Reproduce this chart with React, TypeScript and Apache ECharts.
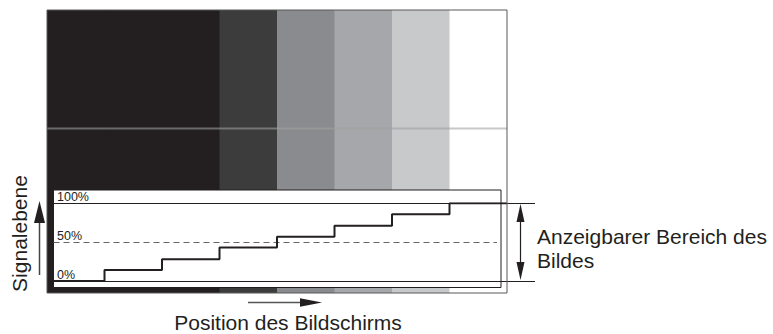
import React, { useEffect, useRef } from 'react';
import * as echarts from 'echarts';

// ---- data ----
const columnTones = ['#231f20', '#231f20', '#231f20', '#3c3c3c', '#8a8b8e', '#a6a7aa', '#c8c9cb', '#ffffff'];
const signalLevels = [0, 14, 28, 43, 57, 71, 86, 100];
const levelTicks = [0, 50, 100];
const levelTickLabels = ['0%', '50%', '100%'];
const yAxisTitle = 'Signalebene';
const xAxisTitle = 'Position des Bildschirms';
const rangeLabel = ['Anzeigbarer Bereich des', 'Bildes'];

// ---- layout ----
const FONT = '"Liberation Sans", Arial, Helvetica, sans-serif';
const INK = '#231f20';
const FRAME = { x: 47, y: 10, w: 460, h: 283 };
const COL_W = FRAME.w / columnTones.length;
const BOX = { x: 53.5, y: 190, w: 447.5, h: 97.5 };
const SIG = { left: 53.5, right: 535, top: 203.3, bottom: 281 };
const xMin = (SIG.left - FRAME.x) / COL_W;
const xMax = (SIG.right - FRAME.x) / COL_W;
const dashEnd = (497 - FRAME.x) / COL_W;

export default function App() {
  const ref = useRef<HTMLDivElement>(null);
  useEffect(() => {
    if (!ref.current) return;
    const chart = echarts.init(ref.current, undefined, { renderer: 'svg' });
    const stairs: number[][] = signalLevels.map((v, i) => [i, v]);
    stairs.push([signalLevels.length, signalLevels[signalLevels.length - 1]]);

    const option: any = {
      animation: false,
      grid: [
        { left: FRAME.x, top: FRAME.y, width: FRAME.w, height: FRAME.h },
        { left: SIG.left, top: SIG.top, width: SIG.right - SIG.left, height: SIG.bottom - SIG.top },
      ],
      xAxis: [
        { gridIndex: 0, type: 'value', min: 0, max: columnTones.length, show: false },
        { gridIndex: 1, type: 'value', min: xMin, max: xMax, show: false },
      ],
      yAxis: [
        { gridIndex: 0, type: 'value', min: 0, max: 1, show: false },
        {
          gridIndex: 1, type: 'value', min: 0, max: 100, interval: 50, z: 6,
          axisLine: { show: false }, axisTick: { show: false }, splitLine: { show: false },
          axisLabel: {
            inside: true, margin: 3.5, verticalAlign: 'bottom', fontSize: 12.5, color: INK, fontFamily: FONT,
            formatter: (v: number) => levelTickLabels[levelTicks.indexOf(v)] ?? '',
          },
        },
      ],
      series: [
        {
          type: 'custom', xAxisIndex: 0, yAxisIndex: 0, z: 1, silent: true,
          data: columnTones.map((_, i) => [i, i + 1]),
          renderItem: (params: any, api: any) => {
            const p0 = api.coord([api.value(0), 1]);
            const p1 = api.coord([api.value(1), 0]);
            return {
              type: 'rect',
              shape: { x: p0[0], y: p0[1], width: p1[0] - p0[0] + 0.5, height: p1[1] - p0[1] },
              style: { fill: columnTones[params.dataIndex] },
            };
          },
        },
        {
          type: 'line', xAxisIndex: 1, yAxisIndex: 1, z: 5, step: 'end', showSymbol: false, silent: true,
          data: stairs,
          lineStyle: { color: INK, width: 2 },
          markLine: {
            silent: true, symbol: 'none', label: { show: false },
            data: [
              { yAxis: 0, lineStyle: { color: INK, width: 1, type: 'solid' } },
              { yAxis: 100, lineStyle: { color: INK, width: 1, type: 'solid' } },
              [
                { coord: [xMin, 50], lineStyle: { color: '#666', width: 1.2, type: [6, 4] } },
                { coord: [dashEnd, 50] },
              ],
            ],
          },
        },
      ],
      graphic: [
        { type: 'rect', z: 3, silent: true, shape: { x: BOX.x, y: BOX.y, width: BOX.w, height: BOX.h }, style: { fill: '#fff', stroke: INK, lineWidth: 1 } },
        { type: 'line', z: 2, silent: true, shape: { x1: FRAME.x, y1: 128.5, x2: FRAME.x + FRAME.w, y2: 128.5 }, style: { stroke: 'rgba(160,160,160,0.58)', lineWidth: 2 } },
        { type: 'rect', z: 10, silent: true, shape: { x: FRAME.x, y: FRAME.y, width: FRAME.w, height: FRAME.h }, style: { fill: 'none', stroke: '#58595b', lineWidth: 1 } },
        // range arrow
        { type: 'line', z: 10, shape: { x1: 520.5, y1: 215, x2: 520.5, y2: 268 }, style: { stroke: INK, lineWidth: 1.2 } },
        { type: 'polygon', z: 10, shape: { points: [[520.5, 204], [516.5, 222], [524.5, 222]] }, style: { fill: INK } },
        { type: 'polygon', z: 10, shape: { points: [[520.5, 280], [516.5, 262], [524.5, 262]] }, style: { fill: INK } },
        // left arrow
        { type: 'line', z: 10, shape: { x1: 39.5, y1: 218, x2: 39.5, y2: 275 }, style: { stroke: '#444', lineWidth: 1.5 } },
        { type: 'polygon', z: 10, shape: { points: [[39.5, 201], [34, 223], [45, 223]] }, style: { fill: INK } },
        // bottom arrow
        { type: 'line', z: 10, shape: { x1: 248, y1: 302.5, x2: 304, y2: 302.5 }, style: { stroke: '#555', lineWidth: 1.5 } },
        { type: 'polygon', z: 10, shape: { points: [[322, 302.5], [300, 298.3], [300, 306.7]] }, style: { fill: INK } },
        // texts
        { type: 'text', z: 10, x: 537, y: 236, style: { text: rangeLabel[0], fontSize: 21, fontFamily: FONT, fill: INK, textAlign: 'left', textVerticalAlign: 'middle' } },
        { type: 'text', z: 10, x: 537, y: 260.6, style: { text: rangeLabel[1], fontSize: 21, fontFamily: FONT, fill: INK, textAlign: 'left', textVerticalAlign: 'middle' } },
        { type: 'text', z: 10, x: 288, y: 322.6, style: { text: xAxisTitle, fontSize: 21, fontFamily: FONT, fill: INK, textAlign: 'center', textVerticalAlign: 'middle' } },
        { type: 'text', z: 10, x: 19.3, y: 233.5, rotation: Math.PI / 2, style: { text: yAxisTitle, fontSize: 21, fontFamily: FONT, fill: INK, textAlign: 'center', textVerticalAlign: 'middle' } },
      ],
    };
    chart.setOption(option);
    return () => chart.dispose();
  }, []);
  return <div ref={ref} style={{ position: 'fixed', left: 0, top: 0, width: 773, height: 334, background: '#fff' }} />;
}
